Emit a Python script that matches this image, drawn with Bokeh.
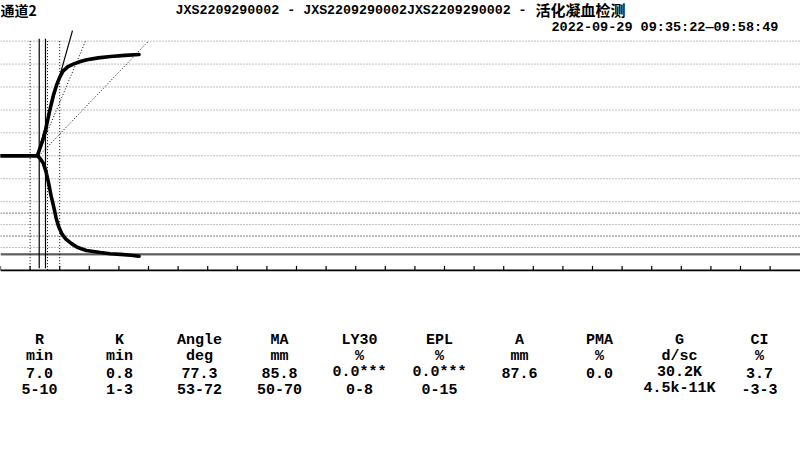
from bokeh.plotting import figure
from bokeh.models import Range1d, ColumnDataSource
from bokeh.core.properties import value
from bokeh.embed import file_html
from bokeh.resources import INLINE

# ---------------- data ----------------
channel = "通道2"
title_code = "JXS2209290002 - JXS2209290002JXS2209290002 - "
title_name = "活化凝血检测"
time_span = "2022-09-29 09:35:22\u201409:58:49"

# upper / lower trace: time (min), amplitude (mm)
up_t = [0, 6.2, 6.6, 7.1, 7.6, 8.0, 8.45, 8.95, 9.45, 10.0, 10.55, 11.4, 12.4, 13.5, 14.6, 16.5, 18.6, 21.0, 23.4]
up_a = [0, 0, 2.8, 6.5, 11.0, 16.0, 21.2, 26.5, 30.7, 34.2, 36.9, 38.9, 40.1, 41.1, 41.9, 42.7, 43.3, 43.8, 44.2]
lo_t = [0, 6.2, 6.7, 7.26, 7.7, 8.15, 8.55, 9.0, 9.4, 9.85, 10.4, 11.0, 12.0, 12.95, 14.5, 16.9, 18.5, 20.3, 22.0, 23.4]
lo_a = [0, 0, -1.2, -3.4, -7.0, -12.2, -17.5, -22.4, -27.2, -31.1, -34.2, -36.2, -38.3, -39.9, -41.3, -42.2, -42.7, -43.0, -43.4, -43.8]

# dotted grid amplitudes (mm); darker ones
grid_gray = [50, 40, 30, 20, 10, 0, -10, -20, -30, -40]
grid_dark = [-25, -35]
ma_line = -42.9          # -MA/2
axis_level = -50         # time axis
tick_times = list(range(0, 131, 5))

# marker lines (min)
vdotted = [5.0, 7.94, 10.0]
vsolid = [6.54, 7.6]
# angle / diagonal lines: (t0, a0, t1, a1)
tangent = (6.2, 0.0, 12.16, 54.6)
diag_dotted = [(6.2, 0.0, 14.36, 50.0), (6.5, 0.0, 25.0, 50.0)]

# result table
params = ["R", "K", "Angle", "MA", "LY30", "EPL", "A", "PMA", "G", "CI"]
units = ["min", "min", "deg", "mm", "%", "%", "mm", "%", "d/sc", "%"]
results = ["7.0", "0.8", "77.3", "85.8", "0.0***", "0.0***", "87.6", "0.0", "30.2K", "3.7"]
ranges = ["5-10", "1-3", "53-72", "50-70", "0-8", "0-15", "", "", "4.5k-11K", "-3-3"]

# ---------------- layout (pixel scale) ----------------
W, H = 800, 460
PX_PER_MIN = 5.92
PX_PER_MM = 2.293
CENTER_PX = 155.3

def dx(px):
    return px / PX_PER_MIN

def dy(py):
    return (CENTER_PX - py) / PX_PER_MM

p = figure(width=W, height=H, output_backend="svg", toolbar_location=None,
           x_range=Range1d(0, W / PX_PER_MIN), y_range=Range1d(dy(H), dy(0)),
           x_axis_type=None, y_axis_type=None, min_border=0)
p.outline_line_color = None
p.xgrid.visible = False
p.ygrid.visible = False
p.background_fill_color = "white"
p.border_fill_color = "white"

xmax = W / PX_PER_MIN
# horizontal dotted grid
p.segment(x0=[0] * len(grid_gray), x1=[xmax] * len(grid_gray), y0=grid_gray, y1=grid_gray,
          line_color="#808080", line_width=1, line_dash="1 2")
p.segment(x0=[0] * len(grid_dark), x1=[xmax] * len(grid_dark), y0=grid_dark, y1=grid_dark,
          line_color="black", line_width=1, line_dash="1 2")

# MA line (black + gray shadow)
p.segment(x0=[0], x1=[xmax], y0=[ma_line], y1=[ma_line], line_color="black", line_width=1.2)
p.segment(x0=[0], x1=[xmax], y0=[ma_line - 0.45], y1=[ma_line - 0.45], line_color="#9a9a9a", line_width=1)

# time axis
p.segment(x0=[0], x1=[xmax], y0=[axis_level], y1=[axis_level], line_color="black", line_width=1.8)
p.segment(x0=tick_times, x1=tick_times, y0=[axis_level] * len(tick_times),
          y1=[axis_level + 4.5 / PX_PER_MM] * len(tick_times), line_color="black", line_width=1.2)

# vertical marker lines
p.segment(x0=vdotted, x1=vdotted, y0=[50] * len(vdotted), y1=[axis_level] * len(vdotted),
          line_color="black", line_width=1, line_dash="1 2")
p.segment(x0=vsolid, x1=vsolid, y0=[51] * len(vsolid), y1=[axis_level + 1] * len(vsolid),
          line_color="black", line_width=1.2)

# angle lines
p.segment(x0=[tangent[0]], y0=[tangent[1]], x1=[tangent[2]], y1=[tangent[3]],
          line_color="black", line_width=1.2)
p.segment(x0=[d[0] for d in diag_dotted], y0=[d[1] for d in diag_dotted],
          x1=[d[2] for d in diag_dotted], y1=[d[3] for d in diag_dotted],
          line_color="black", line_width=1, line_dash="1 2")

# traces
p.line(up_t, up_a, line_color="black", line_width=3.6, line_join="round", line_cap="round")
p.line(lo_t, lo_a, line_color="black", line_width=3.6, line_join="round", line_cap="round")

MONO = value("Liberation Mono")
CJK = value("Noto Sans CJK SC")

p.text(x=[dx(0)], y=[dy(9)], text=[channel], text_font=CJK,
       text_font_size="14px", text_font_style="bold", text_align="left", text_baseline="middle",
       text_color="black")
p.text(x=[dx(175)], y=[dy(9.5)], text=[title_code], text_font=MONO, text_font_size="13.3px",
       text_font_style="bold", text_align="left", text_baseline="middle", text_color="black")
p.text(x=[dx(535)], y=[dy(9)], text=[title_name], text_font=CJK, text_font_size="15px",
       text_font_style="bold", text_align="left", text_baseline="middle", text_color="black")
p.text(x=[dx(551)], y=[dy(27)], text=[time_span], text_font=MONO, text_font_size="13.5px",
       text_font_style="bold", text_align="left", text_baseline="middle", text_color="black")

# table
col_x = [dx(39 + 80 * i) for i in range(len(params))]
row_px = [340, 356, 372, 388]
for rowvals, rp in zip([params, units, results, ranges], row_px):
    src = ColumnDataSource(dict(x=col_x, y=[dy(rp)] * len(col_x), t=rowvals))
    p.text(x="x", y="y", text="t", source=src, text_font=MONO, text_font_size="15px",
           text_font_style="bold", text_align="center", text_baseline="middle", text_color="black")

open("out.html", "w").write(file_html(p, INLINE))
